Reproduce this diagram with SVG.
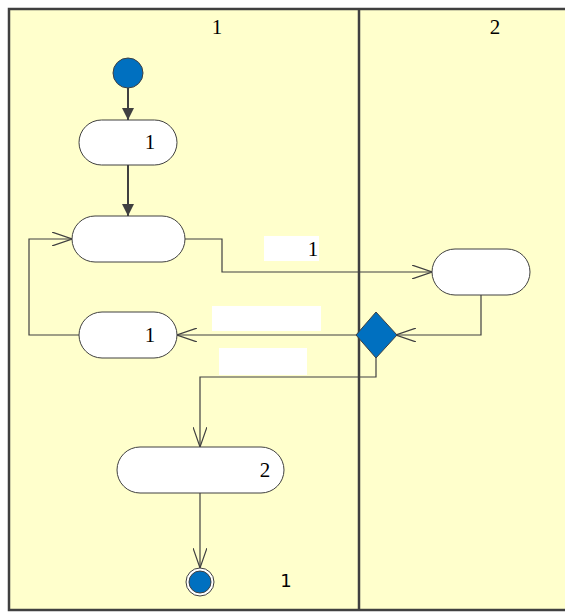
<svg xmlns="http://www.w3.org/2000/svg" width="565" height="612" viewBox="0 0 565 612">
<defs>
<style>
.lane{fill:#ffffcc;stroke:#404040;stroke-width:2.5}
.act{fill:#ffffff;stroke:#404040;stroke-width:1}
.lbl{font-family:"Liberation Serif","DejaVu Serif",serif;font-size:21px;fill:#000}
.sans{font-family:"DejaVu Sans","Liberation Sans",sans-serif;font-size:18px;fill:#000}
.c{fill:none;stroke:#404040;stroke-width:1.2}
.cs{fill:none;stroke:#404040;stroke-width:2}
.box{fill:#ffffff;stroke:none}
</style>
<marker id="filled" viewBox="0 0 12 12" refX="12" refY="6" markerWidth="12" markerHeight="12" markerUnits="userSpaceOnUse" orient="auto">
<path d="M0,0 L12,6 L0,12 Z" fill="#404040"/>
</marker>
<marker id="open" viewBox="0 0 20 14" refX="20" refY="7" markerWidth="20" markerHeight="14" markerUnits="userSpaceOnUse" orient="auto">
<path d="M0,0 L20,7 L0,14" fill="none" stroke="#404040" stroke-width="1.2"/>
</marker>
</defs>
<g id="lanes">
<rect class="lane" x="9" y="9" width="565" height="601"/>
<line x1="359" y1="9" x2="359" y2="610" stroke="#404040" stroke-width="2.5"/>
<text class="lbl" x="217" y="34" text-anchor="middle">1</text>
<text class="lbl" x="495" y="34" text-anchor="middle">2</text>
</g>
<g id="connectors">
<line class="cs" x1="128" y1="88" x2="128" y2="120" marker-end="url(#filled)"/>
<line class="cs" x1="128" y1="165" x2="128" y2="216" marker-end="url(#filled)"/>
<polyline class="c" points="185,239 222,239 222,272 432,272" marker-end="url(#open)"/>
<polyline class="c" points="481,295 481,335 396,335" marker-end="url(#open)"/>
<line class="c" x1="356" y1="335" x2="177" y2="335" marker-end="url(#open)"/>
<polyline class="c" points="79,335 29,335 29,239 72,239" marker-end="url(#open)"/>
<polyline class="c" points="376,357 376,377 200,377 200,447" marker-end="url(#open)"/>
<line class="c" x1="200" y1="493" x2="200" y2="568" marker-end="url(#open)"/>
<rect class="box" x="264" y="236" width="55" height="25"/>
<text class="lbl" x="313" y="256" text-anchor="middle">1</text>
<rect class="box" x="212" y="306" width="109" height="25"/>
<rect class="box" x="219" y="348" width="88" height="27"/>
</g>
<g id="start">
<circle cx="128" cy="73" r="15" fill="#0070c0" stroke="#404040" stroke-width="1"/>
</g>
<g id="action1">
<rect class="act" x="79" y="120" width="98" height="45" rx="22.5" ry="22.5"/>
<text class="lbl" x="150" y="149" text-anchor="middle">1</text>
</g>
<g id="action2">
<rect class="act" x="72" y="216" width="113" height="46" rx="23" ry="23"/>
</g>
<g id="action3">
<rect class="act" x="432" y="249" width="98" height="46" rx="23" ry="23"/>
</g>
<g id="decision">
<polygon points="376,312 397,335 376,358 356,335" fill="#0070c0" stroke="#404040" stroke-width="1"/>
</g>
<g id="action4">
<rect class="act" x="79" y="312" width="98" height="46" rx="23" ry="23"/>
<text class="lbl" x="150" y="342" text-anchor="middle">1</text>
</g>
<g id="action5">
<rect class="act" x="117" y="447" width="167" height="46" rx="23" ry="23"/>
<text class="lbl" x="265" y="477" text-anchor="middle">2</text>
</g>
<g id="end">
<circle cx="200" cy="582" r="14" fill="#ffffff" stroke="#404040" stroke-width="1"/>
<circle cx="200" cy="582" r="11" fill="#0070c0" stroke="#404040" stroke-width="1"/>
<text class="sans" x="286" y="587" text-anchor="middle">1</text>
</g>
</svg>
